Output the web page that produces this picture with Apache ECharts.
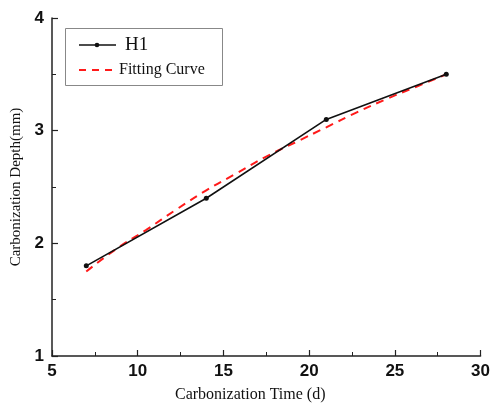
<!DOCTYPE html>
<html><head><meta charset="utf-8">
<script src="https://cdn.jsdelivr.net/npm/echarts@6/dist/echarts.min.js"></script>
<style>html,body{margin:0;padding:0;background:#fff}#c{width:493px;height:408px}</style>
</head><body><div id="c"></div>
<script>
const timeDays = [7, 14, 21, 28];
const depthH1 = [1.8, 2.4, 3.1, 3.5];
const fitTime = [7, 8.75, 10.5, 12.25, 14, 15.75, 17.5, 19.25, 21, 22.75, 24.5, 26.25, 28];
const fitDepth = [1.75, 1.95, 2.12, 2.3, 2.47, 2.62, 2.77, 2.9, 3.03, 3.16, 3.28, 3.39, 3.5];
const xTicks = [5, 10, 15, 20, 25, 30];
const yTicks = [1, 2, 3, 4];
const legendNames = ['H1', 'Fitting Curve'];

const chart = echarts.init(document.getElementById('c'), null, {renderer: 'canvas'});
const axisCol = '#222';
chart.setOption({
  animation: false,
  grid: {left: 52, right: 10, top: 18, bottom: 51},
  graphic: [
    {type: 'rect', shape: {x: 65.5, y: 28.5, width: 157, height: 57}, style: {fill: '#fff', stroke: '#888', lineWidth: 1}, z: 10},
    {type: 'line', shape: {x1: 79, y1: 45, x2: 116, y2: 45}, style: {stroke: '#111', lineWidth: 1.6}, z: 11},
    {type: 'circle', shape: {cx: 97, cy: 45, r: 2.3}, style: {fill: '#111'}, z: 11},
    {type: 'text', left: 125, top: 36, style: {text: legendNames[0], font: '19px "Liberation Serif"', fill: '#111'}, z: 11},
    {type: 'line', shape: {x1: 79, y1: 70, x2: 116, y2: 70}, style: {stroke: '#ff1a1a', lineWidth: 2, lineDash: [7, 6]}, z: 11},
    {type: 'text', left: 119, top: 62, style: {text: legendNames[1], font: '16px "Liberation Serif"', fill: '#111'}, z: 11}
  ],
  xAxis: {
    type: 'value', min: xTicks[0], max: xTicks[xTicks.length-1], interval: 5,
    name: 'Carbonization Time (d)', nameLocation: 'middle', nameGap: 31,
    nameTextStyle: {fontFamily: 'Liberation Serif', fontSize: 16, color: '#111', padding: [0, 32, 0, 0]},
    axisLine: {lineStyle: {color: axisCol, width: 1.5}},
    axisTick: {inside: true, length: 6, lineStyle: {color: axisCol, width: 1.2}},
    minorTick: {show: true, splitNumber: 2, length: 4, lineStyle: {color: axisCol}},
    axisLabel: {fontFamily: 'Liberation Sans', fontWeight: 'bold', fontSize: 17, color: '#111', margin: 7},
    splitLine: {show: false}
  },
  yAxis: {
    type: 'value', min: yTicks[0], max: yTicks[yTicks.length-1], interval: 1,
    name: 'Carbonization Depth(mm)', nameLocation: 'middle', nameGap: 28,
    nameTextStyle: {fontFamily: 'Liberation Serif', fontSize: 15, color: '#111'},
    axisLine: {show: true, lineStyle: {color: axisCol, width: 1.5}},
    axisTick: {show: true, inside: true, length: 6, lineStyle: {color: axisCol, width: 1.2}},
    minorTick: {show: true, splitNumber: 2, length: 4, lineStyle: {color: axisCol}},
    axisLabel: {fontFamily: 'Liberation Sans', fontWeight: 'bold', fontSize: 17, color: '#111', margin: 8},
    splitLine: {show: false}
  },
  series: [
    {
      name: legendNames[0], type: 'line',
      data: timeDays.map((t, i) => [t, depthH1[i]]),
      symbol: 'circle', symbolSize: 5,
      lineStyle: {color: '#111', width: 1.6},
      itemStyle: {color: '#111'}, z: 3
    },
    {
      name: legendNames[1], type: 'line', smooth: true,
      data: fitTime.map((t, i) => [t, fitDepth[i]]),
      symbol: 'none',
      lineStyle: {color: '#ff1a1a', width: 2, type: [8, 6]},
      itemStyle: {color: '#ff1a1a'}, z: 2
    }
  ]
});
</script></body></html>
